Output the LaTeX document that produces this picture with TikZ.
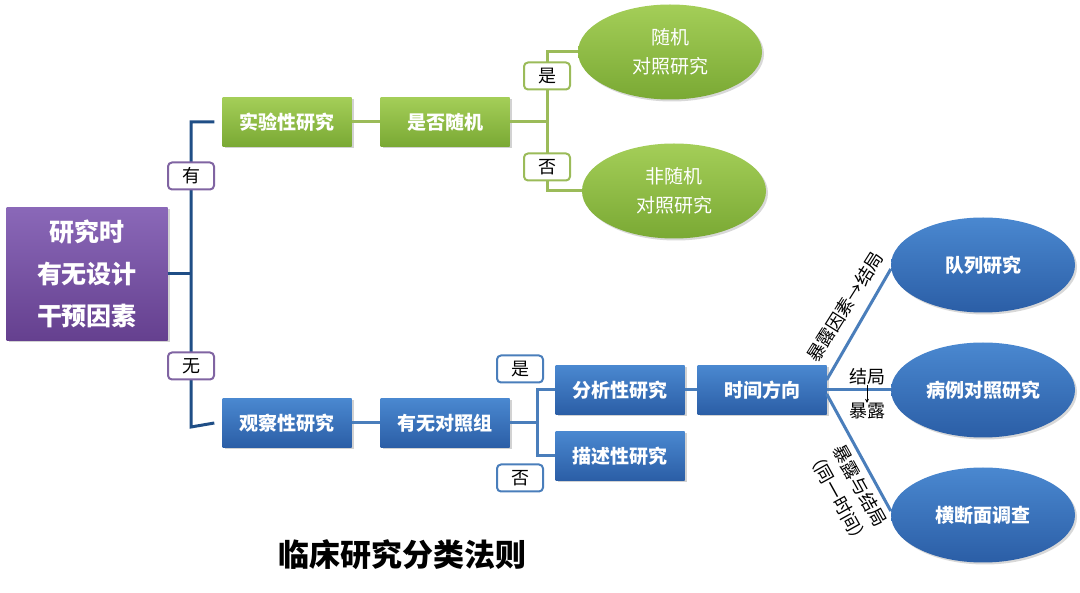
\documentclass[tikz,border=0pt]{standalone}
\usepackage{fontspec}
\setmainfont{Noto Sans CJK SC}
\usetikzlibrary{shapes.geometric,shadows,arrows.meta}
\definecolor{purT}{HTML}{8A68B8}
\definecolor{purB}{HTML}{65408F}
\definecolor{grT}{HTML}{A4CE58}
\definecolor{grB}{HTML}{7AA934}
\definecolor{grL}{HTML}{9BBB59}
\definecolor{blT}{HTML}{4A88D0}
\definecolor{blB}{HTML}{2B5EA6}
\definecolor{blL}{HTML}{4A7EBB}
\definecolor{dkL}{HTML}{1F4E86}
\definecolor{purL}{HTML}{8064A2}
\tikzset{
  boxbase/.style={rectangle, minimum width=129pt, minimum height=49pt, inner sep=0pt, text=white,
    font=\fontsize{19}{22}\selectfont\bfseries,
    drop shadow={opacity=0.35,shadow xshift=2pt,shadow yshift=-2pt}},
  gbox/.style={boxbase, top color=grT, bottom color=grB},
  bbox/.style={boxbase, top color=blT, bottom color=blB},
  ellbase/.style={ellipse, minimum width=184pt, minimum height=95pt, inner sep=0pt, text=white, align=center,
    drop shadow={opacity=0.3,shadow xshift=2pt,shadow yshift=-2pt}},
  gell/.style={ellbase, top color=grT, bottom color=grB, font=\fontsize{19}{29}\selectfont},
  bell/.style={ellbase, top color=blT, bottom color=blB, font=\fontsize{19}{22}\selectfont\bfseries},
  lab/.style={rectangle, rounded corners=4pt, fill=white, line width=2pt, minimum width=46pt,
    minimum height=27pt, inner sep=0pt, font=\fontsize{18}{20}\selectfont},
  dk/.style={draw=dkL, line width=3pt},
  gl/.style={draw=grL, line width=3pt},
  bl/.style={draw=blL, line width=3pt},
  small/.style={font=\fontsize{18}{25}\selectfont, inner sep=0pt, align=center}
}
\begin{document}
\begin{tikzpicture}[x=1pt,y=-1pt]
\useasboundingbox[fill=white] (0,0) rectangle (1080,593);
% root
\node[rectangle, minimum width=161pt, minimum height=133pt, inner sep=0pt, top color=purT, bottom color=purB,
  text=white, align=center, font=\fontsize{25}{42}\selectfont\bfseries,
  drop shadow={opacity=0.35,shadow xshift=2pt,shadow yshift=-2pt}] (root) at (87,274) {研究时\\有无设计\\干预因素};
% level 1
\node[gbox] (exp) at (287,122) {实验性研究};
\node[gbox] (rand) at (445,122) {是否随机};
\node[bbox] (obs) at (287,423) {观察性研究};
\node[bbox] (ctrl) at (445,423) {有无对照组};
% green ellipses
\node[gell] (e1) at (670,52) {随机\\对照研究};
\node[gell] (e2) at (674,191) {非随机\\对照研究};
% blue boxes
\node[bbox] (ana) at (620,390) {分析性研究};
\node[bbox] (desc) at (620,456) {描述性研究};
\node[bbox] (time) at (762,390) {时间方向};
% blue ellipses
\node[bell] (c1) at (983,265) {队列研究};
\node[bell] (c2) at (983,390) {病例对照研究};
\node[bell] (c3) at (983,515) {横断面调查};
% coordinates
\coordinate (t1) at (191,122);
\coordinate (t2) at (191,427);
\coordinate (t0) at (191,274);
\coordinate (g1) at (547,122);
\coordinate (b1) at (537,423);
% dark connectors
\draw[dk] (root.east) -- (t0);
\draw[dk] ([xshift=-8pt]exp.west) -- (t1) -- (t2) -- ([xshift=-8pt]obs.west);
% green connectors
\draw[gl] (exp.east) -- (rand.west);
\draw[gl] (rand.east) -- (g1);
\draw[gl] (e1.west) -| (g1) |- (e2.west);
% blue connectors
\draw[bl] (obs.east) -- (ctrl.west);
\draw[bl] (ctrl.east) -- (b1);
\draw[bl] (ana.west) -| (b1) |- (desc.west);
\draw[bl] (ana.east) -- (time.west);
\draw[bl] ([yshift=10pt]time.east) -- ([yshift=-4pt]c1.west);
\draw[bl] (time.east) -- (c2.west);
\draw[bl] ([yshift=-4pt]time.east) -- ([yshift=4pt]c3.west);
% branch labels
\node[lab, draw=purL] (ly) at (191,176) {有};
\node[lab, draw=purL] (ln) at (191,366) {无};
\node[lab, draw=grL] (gy) at (547,76) {是};
\node[lab, draw=grL] (gn) at (547,167) {否};
\node[lab, draw=blL] (by) at (520,369) {是};
\node[lab, draw=blL] (bn) at (520,478) {否};
% line labels
\node[small, rotate=57.7] (u1) at (845,307) {暴露因素→结局};
\node[small] (m1) at (867,377) {结局};
\node[small] (m2) at (867,411) {暴露};
\draw[-{Stealth[length=4pt,width=4pt]}, line width=0.8pt] (m1.south) -- (m2.north);
\node[small, rotate=-61] (l1) at (849,492) {暴露与结局\\（同一时间）};
% title
\node[font=\fontsize{31}{34}\selectfont\bfseries, inner sep=0pt] (title) at (402,555) {临床研究分类法则};
\end{tikzpicture}
\end{document}
